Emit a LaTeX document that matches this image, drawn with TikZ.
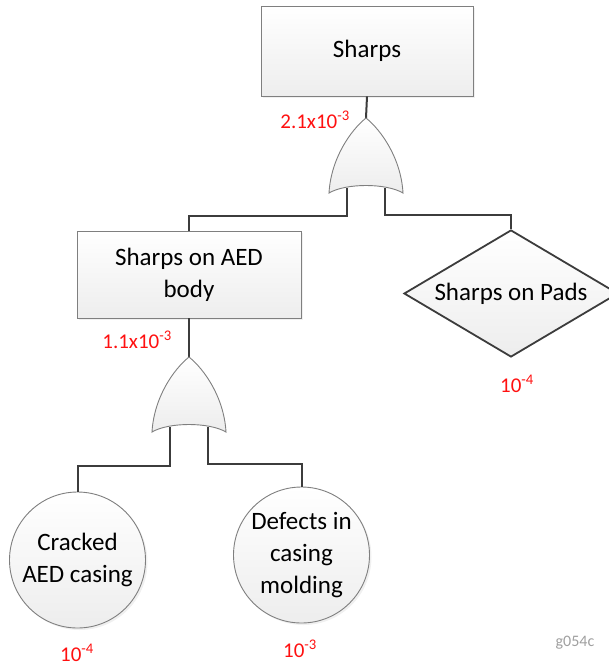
\documentclass[tikz,border=0pt]{standalone}
\usepackage{fontspec}
\setmainfont{Carlito}
\usetikzlibrary{shapes.geometric,shadows}

\definecolor{wirecol}{HTML}{3C3C3C}
\definecolor{edgecol}{HTML}{7F7F7F}
\definecolor{probred}{HTML}{FF1010}

\tikzset{
  wire/.style={draw=wirecol, line width=2pt},
  softfill/.style={top color=white, bottom color=gray!14},
  eventbox/.style={rectangle, draw=edgecol, line width=0.9pt, softfill,
    drop shadow={opacity=0.12, shadow xshift=2pt, shadow yshift=-2pt},
    align=center, font=\fontsize{25}{32}\selectfont, inner sep=0pt},
  basic/.style={circle, draw=edgecol, line width=0.9pt, softfill,
    drop shadow={opacity=0.12, shadow xshift=2pt, shadow yshift=-2pt},
    minimum size=136pt, inner sep=0pt, align=center,
    font=\fontsize{25}{32}\selectfont},
  undev/.style={diamond, draw=wirecol, line width=1.8pt, softfill,
    inner sep=0pt, aspect=1.685, minimum width=214pt, minimum height=127pt},
  prob/.style={text=probred, font=\fontsize{21}{24}\selectfont, inner sep=0pt},
  tag/.style={text=gray!75, font=\fontsize{16}{18}\selectfont, inner sep=0pt},
  gatebody/.style={draw=edgecol, line width=0.9pt, softfill},
  orgate/.pic={
    \path[gatebody] (0,0) .. controls (-15,12) and (-35,40) .. (-37,75)
      .. controls (-20,65) and (20,65) .. (37,75)
      .. controls (35,40) and (15,12) .. (0,0) -- cycle;
    \coordinate (-out) at (0,0);
    \coordinate (-in1) at (-19,70);
    \coordinate (-in2) at (19,70);
  }
}

\begin{document}
\begin{tikzpicture}[x=1pt, y=-1pt]
  \useasboundingbox (0,0) rectangle (609,667);
  \clip (0,0) rectangle (609,667);

  % events
  \node[eventbox, minimum width=212pt, minimum height=90pt] (top) at (367,51) {Sharps};
  \node[eventbox, minimum width=224pt, minimum height=87pt] (body) at (189,274.5) {Sharps on AED\\body};
  \node[undev] (pads) at (511,293.5) {};
  \node[font=\fontsize{25}{32}\selectfont] (padstext) at (pads.center) {Sharps on Pads};
  \node[basic] (crack) at (77.5,560) {Cracked\\AED casing};
  \node[basic] (mold) at (301.5,555) {Defects in\\casing\\molding};

  % gate positions
  \coordinate (g1pos) at (366,118);
  \coordinate (g2pos) at (189,357);

  % connectors under the gates
  \draw[wire] (top.south) -- (g1pos);
  \draw[wire] (body.south) -- (g2pos);
  \draw[wire] (g1pos) ++(-19,70) -- ++(0,28) -| (body.north);
  \draw[wire] (g1pos) ++(19,70) -- ++(0,27) -| (pads.north);
  \draw[wire] (g2pos) ++(-19,70) -- ++(0,39) -| (crack.north);
  \draw[wire] (g2pos) ++(19,70) -- ++(0,37) -| (mold.north);

  % OR gates
  \pic (g1) at (g1pos) {orgate};
  \pic (g2) at (g2pos) {orgate};

  % probabilities
  \node[prob, anchor=base east] (p1) at (350,128) {2.1x10\textsuperscript{-3}};
  \node[prob, anchor=base east] (p2) at (172,348) {1.1x10\textsuperscript{-3}};
  \node[prob, anchor=base] (p3) at (517,392) {10\textsuperscript{-4}};
  \node[prob, anchor=base] (p4) at (77,661) {10\textsuperscript{-4}};
  \node[prob, anchor=base] (p5) at (300,657) {10\textsuperscript{-3}};

  \node[tag, anchor=base] (fig) at (575,646) {g054c};
\end{tikzpicture}
\end{document}
